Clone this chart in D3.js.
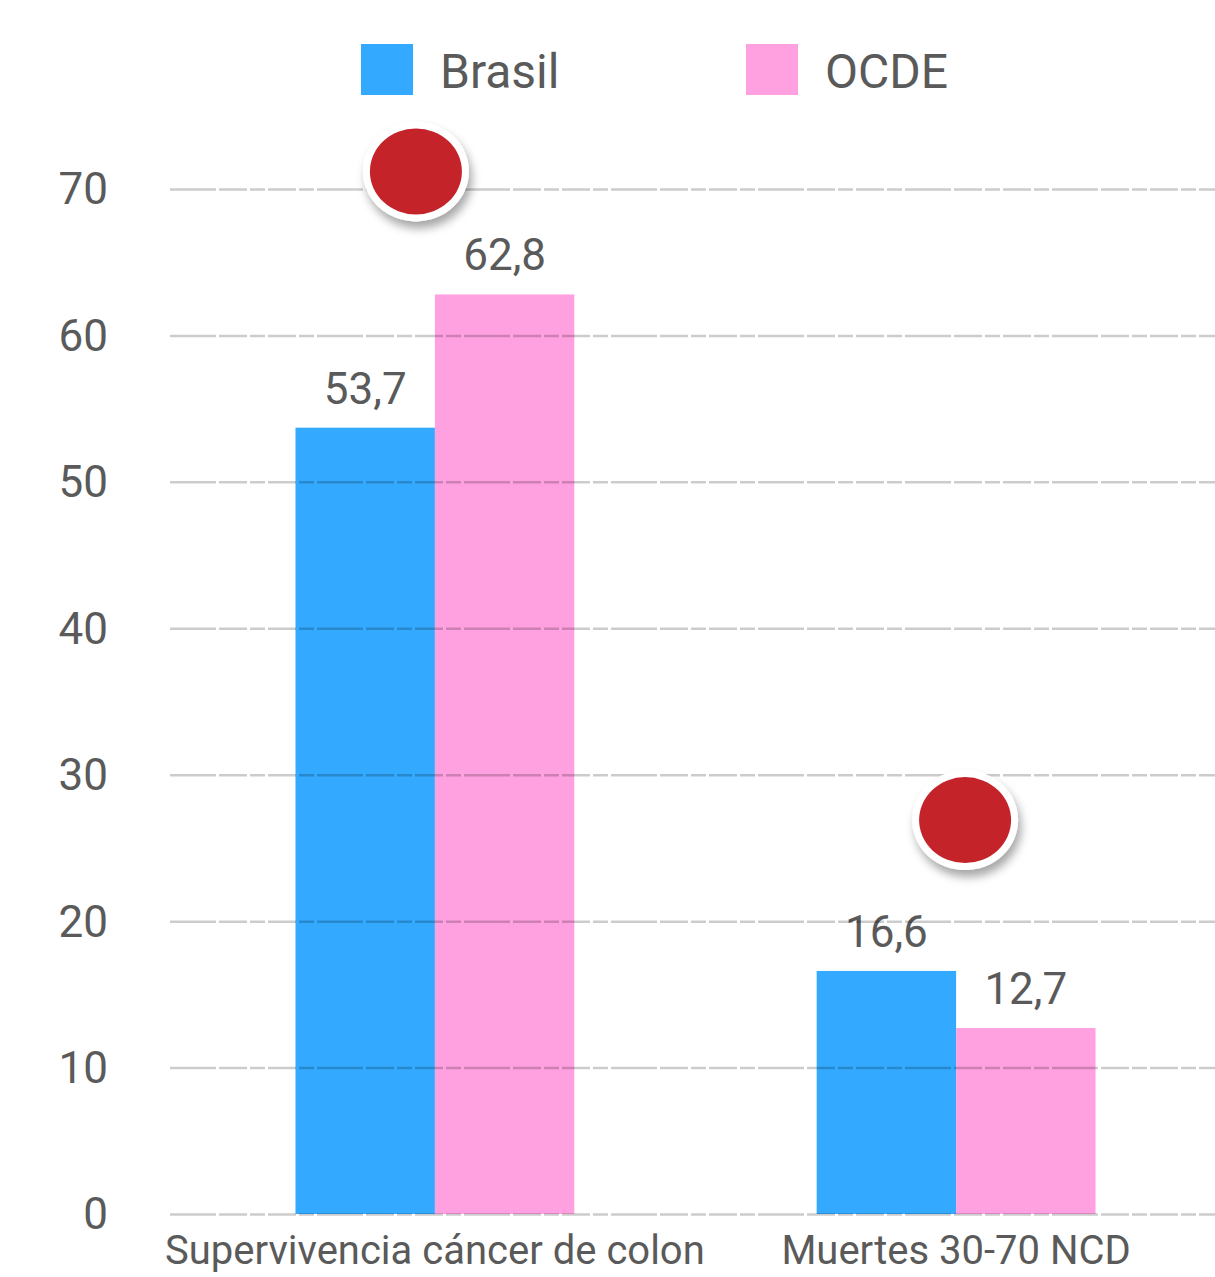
<!DOCTYPE html>
<html>
<head>
<meta charset="utf-8">
<script src="https://cdn.jsdelivr.net/npm/d3@7"></script>
<style>
  body { margin: 0; background: #fff; }
  text { font-family: "Roboto", "Liberation Sans Narrow", sans-serif; fill: #5a5a5a; }
</style>
</head>
<body>
<svg width="1215" height="1277"></svg>
<script>
var categories = ["Supervivencia cáncer de colon", "Muertes 30-70 NCD"];
var seriesNames = ["Brasil", "OCDE"];
var brasil = [53.7, 16.6];
var ocde = [62.8, 12.7];
var markerValues = [71.2, 26.9];   // red dots, in axis units
var yTicks = [0, 10, 20, 30, 40, 50, 60, 70];
var colors = ["#33aaff", "#ffa0e0"];

var svg = d3.select("svg"),
  width = +svg.attr("width"),
  height = +svg.attr("height");

var margin = {left: 170, right: 0, top: 189, bottom: 63};

var x0 = d3.scaleBand()
    .domain(categories)
    .range([margin.left + 3, width - margin.right + 3])
    .paddingInner(0.465)
    .paddingOuter(0.235);

var x1 = d3.scaleBand()
    .domain(seriesNames)
    .range([0, x0.bandwidth()])
    .padding(0);

var y = d3.scaleLinear()
    .domain([0, 70])
    .range([height - margin.bottom, margin.top]);

var fmt = function(v) { return d3.format(".1f")(v).replace(".", ","); };

var rows = categories.map(function(c, i) {
  return {cat: c, values: [
    {name: "Brasil", value: brasil[i]},
    {name: "OCDE", value: ocde[i]}
  ], marker: markerValues[i]};
});

var defs = svg.append("defs");
var filt = defs.append("filter").attr("id", "shadow")
    .attr("x", "-50%").attr("y", "-50%").attr("width", "200%").attr("height", "200%");
filt.append("feDropShadow")
    .attr("dx", 3).attr("dy", 7).attr("stdDeviation", 5)
    .attr("flood-color", "#000").attr("flood-opacity", 0.35);

// bars
var groups = svg.append("g").selectAll("g")
    .data(rows)
    .enter().append("g")
      .attr("transform", function(d) { return "translate(" + x0(d.cat) + ",0)"; });

groups.selectAll("rect")
    .data(function(d) { return d.values; })
    .enter().append("rect")
      .attr("x", function(d) { return x1(d.name); })
      .attr("y", function(d) { return y(d.value); })
      .attr("width", x1.bandwidth())
      .attr("height", function(d) { return y(0) - y(d.value); })
      .attr("fill", function(d, i) { return colors[i]; });

groups.selectAll("text.val")
    .data(function(d) { return d.values; })
    .enter().append("text")
      .attr("class", "val")
      .attr("x", function(d) { return x1(d.name) + x1.bandwidth() / 2; })
      .attr("y", function(d) { return y(d.value) - 24; })
      .attr("text-anchor", "middle")
      .style("font-size", "44px")
      .text(function(d) { return fmt(d.value); });

// grid, drawn over the bars
var yAxis = d3.axisLeft(y)
    .tickValues(yTicks)
    .tickSize(-(width - margin.left))
    .tickPadding(62)
    .tickFormat(d3.format("d"));

var gy = svg.append("g")
    .attr("transform", "translate(" + margin.left + ",0)")
    .call(yAxis);
gy.select(".domain").remove();
gy.selectAll(".tick line")
    .attr("stroke", "rgba(0,0,0,0.2)")
    .attr("stroke-width", 2.5)
    .attr("stroke-dasharray", "46,3,28,3,15,3,28,3,15,3");
gy.selectAll(".tick text")
    .attr("fill", "#5a5a5a")
    .attr("dy", "0.34em")
    .style("font-size", "44px")
    .style("font-family", "Roboto, sans-serif");

// category labels
svg.append("g").selectAll("text")
    .data(categories)
    .enter().append("text")
      .attr("x", function(d) { return x0(d) + x0.bandwidth() / 2; })
      .attr("y", height - 13)
      .attr("text-anchor", "middle")
      .style("font-size", "40px")
      .text(function(d) { return d; });

// red markers
var marks = svg.append("g").selectAll("g")
    .data(rows)
    .enter().append("g")
      .attr("transform", function(d, i) {
        return "translate(" + (x0(d.cat) + x0.bandwidth() / 2 + (i === 0 ? -19 : 9)) + "," + y(d.marker) + ")";
      });
marks.append("ellipse")
    .attr("rx", 53).attr("ry", 50)
    .attr("fill", "#fff")
    .attr("filter", "url(#shadow)");
marks.append("ellipse")
    .attr("rx", 46).attr("ry", 43)
    .attr("fill", "#c4232a");

// legend
var legend = svg.append("g").selectAll("g")
    .data(seriesNames)
    .enter().append("g")
      .attr("transform", function(d, i) { return "translate(" + (361 + i * 385) + ",44)"; });
legend.append("rect")
    .attr("width", 52).attr("height", 51)
    .attr("fill", function(d, i) { return colors[i]; });
legend.append("text")
    .attr("x", 79).attr("y", 44)
    .style("font-size", "48px")
    .text(function(d) { return d; });
</script>
</body>
</html>
